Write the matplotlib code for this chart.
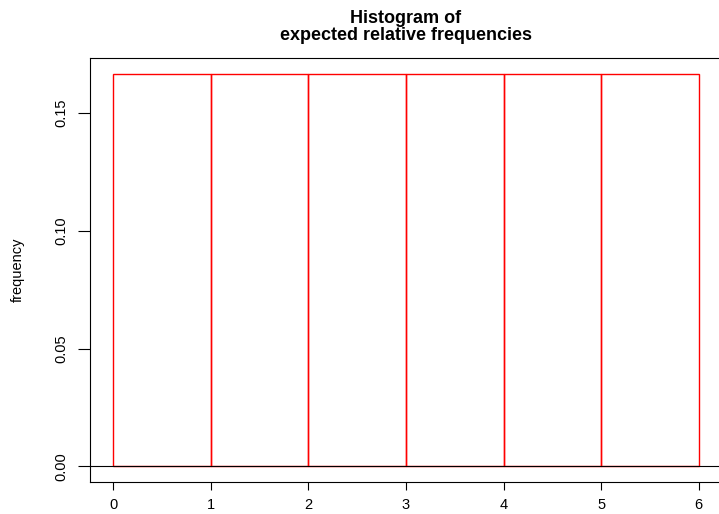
import matplotlib
matplotlib.use("Agg")
import matplotlib.pyplot as plt

plt.rcParams["font.family"] = ["Liberation Sans", "DejaVu Sans"]

# bin edges and expected relative frequency for each bin
bin_edges = [0, 1, 2, 3, 4, 5, 6]
rel_freq = [1 / 6, 1 / 6, 1 / 6, 1 / 6, 1 / 6, 1 / 6]
x_ticks = [0, 1, 2, 3, 4, 5, 6]
y_ticks = [0.00, 0.05, 0.10, 0.15]
y_tick_labels = ["0.00", "0.05", "0.10", "0.15"]

fig = plt.figure(figsize=(7.19, 5.14), dpi=100)
ax = fig.add_axes([90 / 719, 1 - 482 / 514, 632 / 719, 424 / 514])

widths = [b - a for a, b in zip(bin_edges[:-1], bin_edges[1:])]
ax.bar(bin_edges[:-1], rel_freq, width=widths, align="edge",
       facecolor="none", edgecolor="red", linewidth=1.0)
ax.axhline(0, color="black", linewidth=0.8)

# R-style 4% padding around data range
xr = bin_edges[-1] - bin_edges[0]
yr = max(rel_freq)
ax.set_xlim(bin_edges[0] - 0.04 * xr, bin_edges[-1] + 0.04 * xr)
ax.set_ylim(-0.04 * yr, yr * 1.04)

ax.set_xticks(x_ticks)
ax.set_yticks(y_ticks)
ax.set_yticklabels(y_tick_labels, rotation=90, va="center")
ax.tick_params(axis="both", direction="out", width=0.8,
               labelsize=10.5, colors="black")
ax.tick_params(axis="x", length=5.8, pad=6)
ax.tick_params(axis="y", length=8.6, pad=7)

for sp in ax.spines.values():
    sp.set_linewidth(0.8)
    sp.set_color("black")

ax.set_ylabel("frequency", fontsize=10.5, labelpad=21)
ax.set_title("Histogram of\nexpected relative frequencies",
             fontsize=13, fontweight="bold", pad=13, linespacing=1.0)

fig.savefig("out.png", dpi=100)
